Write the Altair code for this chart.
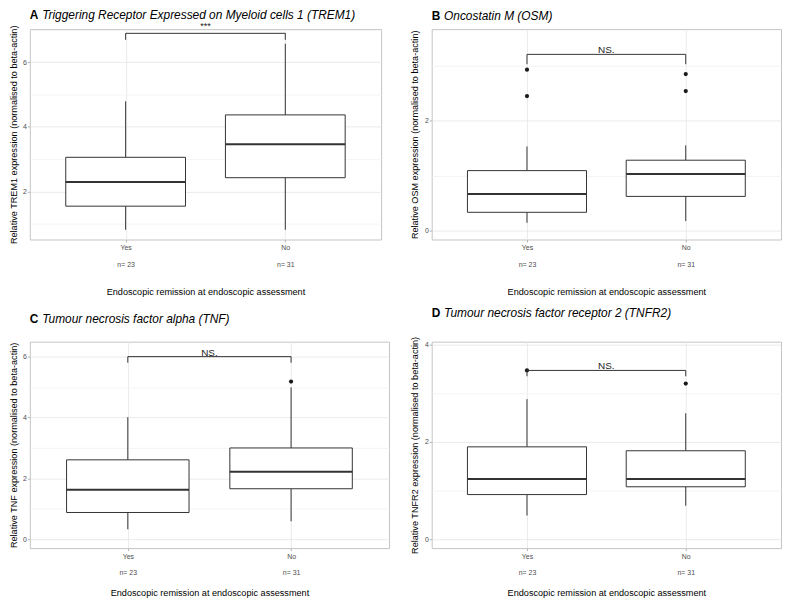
import altair as alt
import pandas as pd

FONT = "Liberation Sans"

groups = ["Yes", "No"]
n_counts = [23, 31]
x_title = "Endoscopic remission at endoscopic assessment"

# Panel A - TREM1
trem1_low = [0.82, 0.82]
trem1_q1 = [1.55, 2.43]
trem1_med = [2.30, 3.46]
trem1_q3 = [3.06, 4.37]
trem1_high = [4.79, 6.57]
trem1_out_yes = []
trem1_out_no = []

# Panel B - OSM
osm_low = [0.14, 0.17]
osm_q1 = [0.33, 0.62]
osm_med = [0.665, 1.03]
osm_q3 = [1.09, 1.28]
osm_high = [1.53, 1.55]
osm_out_yes = [2.93, 2.45]
osm_out_no = [2.85, 2.54]

# Panel C - TNF
tnf_low = [0.33, 0.59]
tnf_q1 = [0.88, 1.66]
tnf_med = [1.63, 2.22]
tnf_q3 = [2.61, 3.00]
tnf_high = [4.01, 4.99]
tnf_out_yes = []
tnf_out_no = [5.18]

# Panel D - TNFR2
tnfr2_low = [0.49, 0.69]
tnfr2_q1 = [0.92, 1.08]
tnfr2_med = [1.24, 1.24]
tnfr2_q3 = [1.90, 1.82]
tnfr2_high = [2.88, 2.59]
tnfr2_out_yes = [3.47]
tnfr2_out_no = [3.20]

# significance brackets (A, B, C, D)
sig_labels = ["***", "NS.", "NS.", "NS."]
bracket_top = [6.89, 3.21, 6.00, 3.47]
bracket_leg = [6.69, 3.03, 5.80, 3.35]

y_domains = [[0.52, 7.02], [-0.166, 3.67], [-0.29, 6.49], [-0.18, 4.06]]
y_ticks = [[1, 2, 3, 4, 5, 6, 7], [0, 1, 2, 3], [0, 1, 2, 3, 4, 5, 6], [0, 1, 2, 3, 4]]

letters = ["A", "B", "C", "D"]
titles = [
    "Triggering Receptor Expressed on Myeloid cells 1 (TREM1)",
    "Oncostatin M (OSM)",
    "Tumour necrosis factor alpha (TNF)",
    "Tumour necrosis factor receptor 2 (TNFR2)",
]
genes = ["TREM1", "OSM", "TNF", "TNFR2"]

BOX_HALF = 0.375
LINE = "#333333"

label_expr = ("datum.value == 1 ? ['{0}', 'n= {1}'] : ['{2}', 'n= {3}']"
              .format(groups[0], n_counts[0], groups[1], n_counts[1]))


def panel(i, low, q1, med, q3, high, out_yes, out_no, width, height,
          title_offset, ytitle_pad, xtitle_pad):
    xscale = alt.Scale(domain=[0.4, 2.6], nice=False, zero=False)
    yscale = alt.Scale(domain=y_domains[i], nice=False, zero=False)

    xaxis = alt.Axis(values=[1, 2], labelExpr=label_expr, labelLineHeight=16.5,
                     labelPadding=2, titlePadding=xtitle_pad, grid=True,
                     gridColor="#e6e6e6", gridWidth=0.8, title=x_title)
    yaxis = alt.Axis(
        values=y_ticks[i],
        labelExpr="datum.value % 2 == 0 ? datum.label : ''",
        gridColor={"condition": {"test": "datum.value % 2 == 0", "value": "#e6e6e6"},
                   "value": "#f1f1f1"},
        gridWidth=0.8,
        tickOpacity={"condition": {"test": "datum.value % 2 == 0", "value": 1},
                     "value": 0},
        labelPadding=1,
        titlePadding=ytitle_pad,
        title="Relative {} expression (normalised to beta-actin)".format(genes[i]),
    )

    def X(field):
        return alt.X(field, type="quantitative", scale=xscale, axis=xaxis)

    def Y(field):
        return alt.Y(field, type="quantitative", scale=yscale, axis=yaxis)

    df = pd.DataFrame({"pos": [1, 2], "group": groups, "low": low, "q1": q1,
                       "med": med, "q3": q3, "high": high})
    base = alt.Chart(df).transform_calculate(
        xl="datum.pos - %s" % BOX_HALF, xr="datum.pos + %s" % BOX_HALF)

    upper = base.mark_rule(color=LINE, strokeWidth=1).encode(
        x=X("pos"), y=Y("q3"), y2="high")
    lower = base.mark_rule(color=LINE, strokeWidth=1).encode(
        x=X("pos"), y=Y("low"), y2="q1")
    box = base.mark_bar(fill="white", stroke=LINE, strokeWidth=1).encode(
        x=X("xl"), x2="xr", y=Y("q1"), y2="q3")
    median = base.mark_rule(color=LINE, strokeWidth=2).encode(
        x=X("xl"), x2="xr", y=Y("med"))

    out_df = pd.DataFrame({
        "pos": [1] * len(out_yes) + [2] * len(out_no),
        "val": list(out_yes) + list(out_no),
    })
    outliers = alt.Chart(out_df).mark_circle(size=18, color="#1a1a1a", opacity=1).encode(
        x=X("pos"), y=Y("val"))

    br = pd.DataFrame({"x1": [1], "x2": [2], "top": [bracket_top[i]],
                       "leg": [bracket_leg[i]], "label": [sig_labels[i]]})
    legs_df = pd.DataFrame({"pos": [1, 2], "top": [bracket_top[i]] * 2,
                            "leg": [bracket_leg[i]] * 2})
    hbar = alt.Chart(br).mark_rule(color=LINE, strokeWidth=1).encode(
        x=X("x1"), x2="x2", y=Y("top"))
    legs = alt.Chart(legs_df).mark_rule(color=LINE, strokeWidth=1).encode(
        x=X("pos"), y=Y("top"), y2="leg")
    txt = alt.Chart(br).transform_calculate(mid="(datum.x1 + datum.x2) / 2").mark_text(
        font=FONT, fontSize=10 if sig_labels[i] != "***" else 9,
        baseline="alphabetic", dy=-1 if sig_labels[i] != "***" else -4, color="#222222"
    ).encode(x=X("mid"), y=Y("top"), text="label:N")

    layers = [upper, lower, box, median, outliers, hbar, legs, txt]
    ch = alt.layer(*layers).properties(
        width=width, height=height,
        title=alt.TitleParams(
            text=letters[i],
            subtitle="\u2800 " + titles[i],
            anchor="start", frame="group",
            font=FONT, fontSize=12, fontWeight="bold", color="black",
            subtitleFont=FONT, subtitleFontSize=12, subtitleFontStyle="italic",
            subtitleColor="black", subtitlePadding=-12, offset=title_offset,
        ),
    )
    return ch


pA = panel(0, trem1_low, trem1_q1, trem1_med, trem1_q3, trem1_high,
           trem1_out_yes, trem1_out_no, 354, 212, 0, 4.5, 20)
pB = panel(1, osm_low, osm_q1, osm_med, osm_q3, osm_high,
           osm_out_yes, osm_out_no, 352, 212, 6, 4.5, 20)
pC = panel(2, tnf_low, tnf_q1, tnf_med, tnf_q3, tnf_high,
           tnf_out_yes, tnf_out_no, 362, 208, 16, 4.5, 13)
pD = panel(3, tnfr2_low, tnfr2_q1, tnfr2_med, tnfr2_q3, tnfr2_high,
           tnfr2_out_yes, tnfr2_out_no, 352, 208, 16, 4.5, 13)

chart = alt.concat(pA, pB, pC, pD, columns=2,
                   spacing={"row": 9, "column": 20}).properties(
    padding={"left": 0, "top": -2, "right": 0, "bottom": 0}, background="white"
).configure_view(
    stroke="#c4c4c4", strokeWidth=1
).configure_axis(
    domain=False, labelFont=FONT, labelFontSize=7, labelColor="#4d4d4d",
    titleFont=FONT, titleFontSize=9.2, titleFontWeight="normal", titleColor="black",
    tickColor="#b3b3b3", tickSize=2.5,
)

chart.save("out.html", embed_options={"renderer": "svg", "actions": False})
